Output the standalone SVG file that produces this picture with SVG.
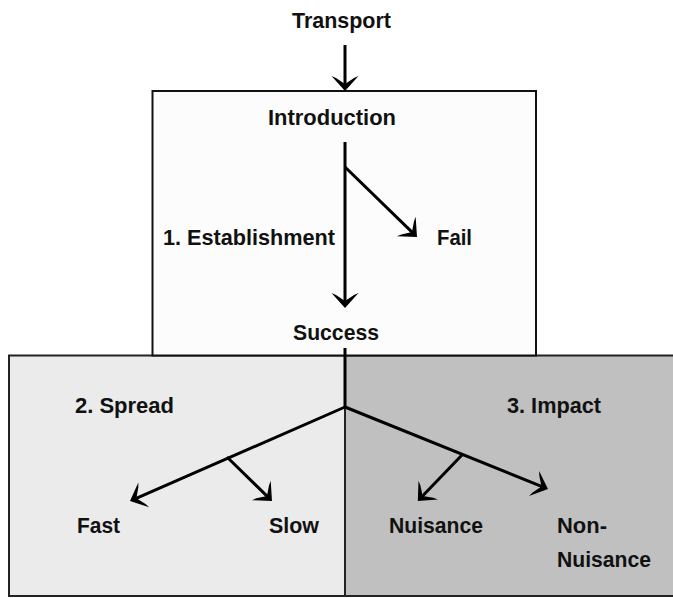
<svg xmlns="http://www.w3.org/2000/svg" width="673" height="598" viewBox="0 0 673 598">
<style>
.t{font-family:"Liberation Sans",Arial,sans-serif;font-weight:bold;font-size:22.5px;fill:#111}
.m{text-anchor:middle}
.c{stroke:#000;stroke-width:3;fill:none}
</style>
<defs>
<marker id="ah" markerUnits="userSpaceOnUse" orient="auto" markerWidth="30" markerHeight="30" viewBox="-16 -15 20 30" refX="0" refY="0" overflow="visible">
<path d="M3,0 L-12,-13.5 L-10,-9 L-4,0 L-10,9 L-12,13.5 Z" fill="#000"/>
</marker>
</defs>
<rect width="673" height="598" fill="#ffffff"/>
<g id="panel-spread">
<rect x="9" y="355.5" width="336" height="240.5" fill="#ebebeb" stroke="#222" stroke-width="2"/>
<text class="t" x="75" y="413" textLength="99" lengthAdjust="spacingAndGlyphs">2. Spread</text>
</g>
<g id="panel-impact">
<rect x="345" y="355.5" width="335" height="240.5" fill="#c0c0c0" stroke="#222" stroke-width="2"/>
<text class="t" x="507" y="413" textLength="94" lengthAdjust="spacingAndGlyphs">3. Impact</text>
</g>
<g id="box-establishment">
<rect x="152.5" y="91" width="383.5" height="264.5" fill="#fcfcfc" stroke="#111" stroke-width="2"/>
<text class="t" x="163" y="245" textLength="172" lengthAdjust="spacingAndGlyphs">1. Establishment</text>
</g>
<g id="transport"><text class="t" x="292" y="28" textLength="99" lengthAdjust="spacingAndGlyphs">Transport</text></g>
<g id="introduction"><text class="t" x="268" y="125" textLength="128" lengthAdjust="spacingAndGlyphs">Introduction</text></g>
<g id="fail"><text class="t" x="437" y="245" textLength="35" lengthAdjust="spacingAndGlyphs">Fail</text></g>
<g id="success"><text class="t" x="293" y="340" textLength="86" lengthAdjust="spacingAndGlyphs">Success</text></g>
<g id="fast"><text class="t" x="77" y="533" textLength="43" lengthAdjust="spacingAndGlyphs">Fast</text></g>
<g id="slow"><text class="t" x="269" y="533" textLength="50" lengthAdjust="spacingAndGlyphs">Slow</text></g>
<g id="nuisance"><text class="t" x="389" y="533" textLength="94" lengthAdjust="spacingAndGlyphs">Nuisance</text></g>
<g id="non-nuisance"><text class="t" x="557" y="533" textLength="50" lengthAdjust="spacingAndGlyphs">Non-</text><text class="t" x="557" y="567" textLength="94" lengthAdjust="spacingAndGlyphs">Nuisance</text></g>
<g id="connectors">
<line class="c" x1="345" y1="45" x2="345" y2="88" marker-end="url(#ah)"/>
<line class="c" x1="345" y1="142" x2="345" y2="305" marker-end="url(#ah)"/>
<line class="c" x1="345" y1="167" x2="414.85" y2="234.9" marker-end="url(#ah)"/>
<line class="c" x1="345" y1="348" x2="345" y2="408"/>
<line class="c" x1="345" y1="407" x2="132.75" y2="499.8" marker-end="url(#ah)"/>
<line class="c" x1="227" y1="457" x2="269.85" y2="498.9" marker-end="url(#ah)"/>
<line class="c" x1="345" y1="407" x2="545.2" y2="487.9" marker-end="url(#ah)"/>
<line class="c" x1="462" y1="455" x2="419.9" y2="498.8" marker-end="url(#ah)"/>
</g>
</svg>
